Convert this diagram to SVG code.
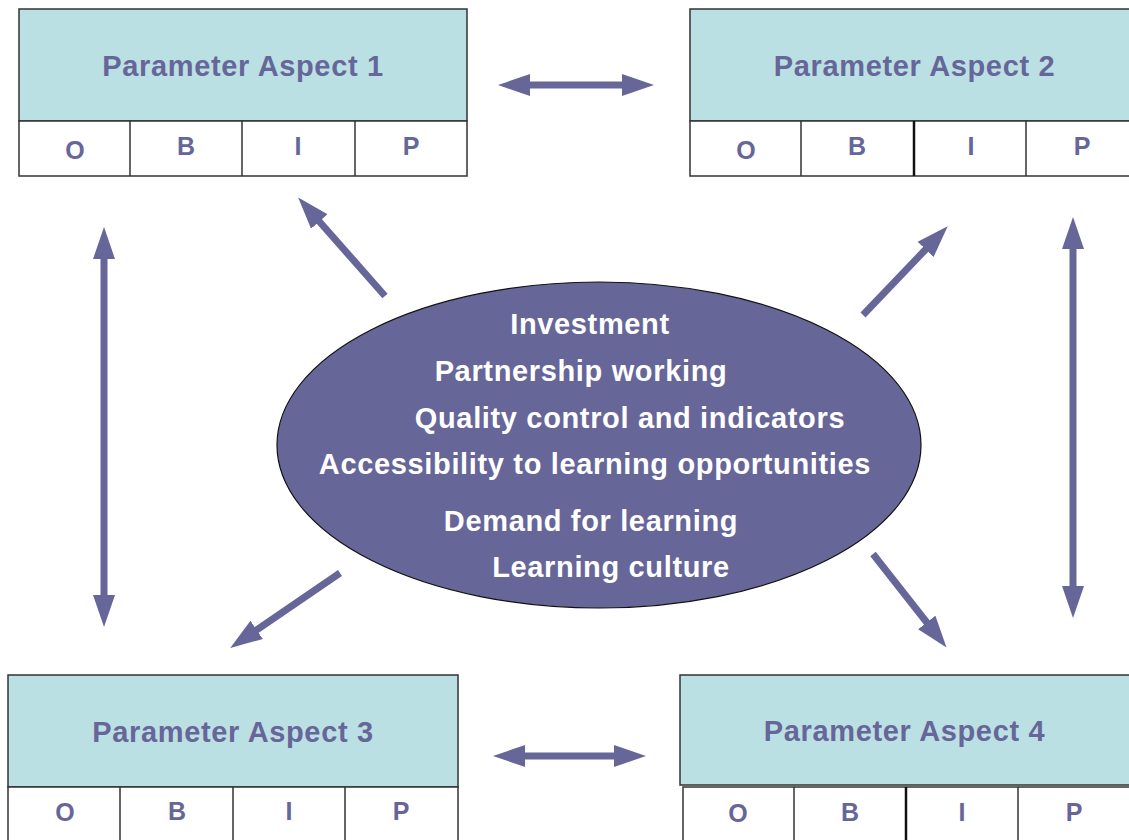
<svg xmlns="http://www.w3.org/2000/svg" width="1129" height="840" viewBox="0 0 1129 840">
<defs>
<style>
.hd{fill:#BBE0E3;stroke:#333;stroke-width:1.5}
.cell{fill:#fff;stroke:#333;stroke-width:1.5}
.dv{stroke:#333;stroke-width:1.5}
.dvk{stroke:#111;stroke-width:2.5}
.tt{font-family:"Liberation Sans",Arial,sans-serif;font-weight:bold;font-size:29px;letter-spacing:0.65px;fill:#666699;text-anchor:middle}
.lt{font-family:"Liberation Sans",Arial,sans-serif;font-weight:bold;font-size:25px;fill:#666699;text-anchor:middle}
.et{font-family:"Liberation Sans",Arial,sans-serif;font-weight:bold;font-size:29px;letter-spacing:0.65px;fill:#fff;text-anchor:middle}
.ar{stroke:#666699;stroke-width:7;fill:none}
</style>
<marker id="ah" markerUnits="userSpaceOnUse" markerWidth="34" markerHeight="24" viewBox="0 -12 34 24" refX="2" refY="0" orient="auto-start-reverse">
<path d="M0,-11 L32,0 L0,11 z" fill="#666699"/>
</marker>
</defs>
<rect width="1129" height="840" fill="#fff"/>

<g id="center">
<ellipse cx="599" cy="445" rx="322" ry="163" fill="#666699" stroke="#111" stroke-width="1.2"/>
<text class="et" x="590" y="334">Investment</text>
<text class="et" x="581" y="381">Partnership working</text>
<text class="et" x="630" y="428">Quality control and indicators</text>
<text class="et" x="595" y="474">Accessibility to learning opportunities</text>
<text class="et" x="591" y="531">Demand for learning</text>
<text class="et" x="611" y="577">Learning culture</text>
</g>

<g id="aspect1">
<rect class="hd" x="19" y="9" width="448" height="112"/>
<rect class="cell" x="19" y="121" width="448" height="55"/>
<line class="dv" x1="130" y1="121" x2="130" y2="176"/>
<line class="dv" x1="242" y1="121" x2="242" y2="176"/>
<line class="dv" x1="355" y1="121" x2="355" y2="176"/>
<text class="tt" x="243" y="76">Parameter Aspect 1</text>
<text class="lt" x="75" y="159">O</text>
<text class="lt" x="186" y="155">B</text>
<text class="lt" x="298" y="155">I</text>
<text class="lt" x="411" y="155">P</text>
</g>

<g id="aspect2">
<rect class="hd" x="690" y="9" width="449" height="112"/>
<rect class="cell" x="690" y="121" width="449" height="55"/>
<line class="dv" x1="801" y1="121" x2="801" y2="176"/>
<line class="dvk" x1="914" y1="121" x2="914" y2="176"/>
<line class="dv" x1="1026" y1="121" x2="1026" y2="176"/>
<text class="tt" x="914.5" y="76">Parameter Aspect 2</text>
<text class="lt" x="746" y="159">O</text>
<text class="lt" x="857" y="155">B</text>
<text class="lt" x="971" y="155">I</text>
<text class="lt" x="1082" y="155">P</text>
</g>

<g id="aspect3">
<rect class="hd" x="8" y="675" width="450" height="112"/>
<rect class="cell" x="8" y="787" width="450" height="60"/>
<line class="dv" x1="120" y1="787" x2="120" y2="847"/>
<line class="dv" x1="233" y1="787" x2="233" y2="847"/>
<line class="dv" x1="345" y1="787" x2="345" y2="847"/>
<text class="tt" x="233" y="742">Parameter Aspect 3</text>
<text class="lt" x="65" y="821">O</text>
<text class="lt" x="177" y="820">B</text>
<text class="lt" x="289" y="820">I</text>
<text class="lt" x="401" y="820">P</text>
</g>

<g id="aspect4">
<rect class="hd" x="680" y="675" width="455" height="110"/>
<rect class="cell" x="683" y="787" width="452" height="60"/>
<line class="dv" x1="794" y1="787" x2="794" y2="847"/>
<line class="dvk" x1="906" y1="787" x2="906" y2="847"/>
<line class="dv" x1="1018" y1="787" x2="1018" y2="847"/>
<text class="tt" x="904.5" y="741">Parameter Aspect 4</text>
<text class="lt" x="738" y="822">O</text>
<text class="lt" x="850" y="821">B</text>
<text class="lt" x="962" y="821">I</text>
<text class="lt" x="1074" y="821">P</text>
</g>

<g id="connectors">
<line class="ar" x1="528" y1="85" x2="624" y2="85" marker-start="url(#ah)" marker-end="url(#ah)"/>
<line class="ar" x1="523" y1="756" x2="616" y2="756" marker-start="url(#ah)" marker-end="url(#ah)"/>
<line class="ar" x1="104" y1="257" x2="104" y2="597" marker-start="url(#ah)" marker-end="url(#ah)"/>
<line class="ar" x1="1073" y1="247" x2="1073" y2="588" marker-start="url(#ah)" marker-end="url(#ah)"/>
<line class="ar" x1="385" y1="296" x2="318" y2="220" marker-end="url(#ah)"/>
<line class="ar" x1="863" y1="315" x2="927" y2="248" marker-end="url(#ah)"/>
<line class="ar" x1="340" y1="573" x2="255" y2="631" marker-end="url(#ah)"/>
<line class="ar" x1="873" y1="554" x2="928" y2="624" marker-end="url(#ah)"/>
</g>
</svg>
